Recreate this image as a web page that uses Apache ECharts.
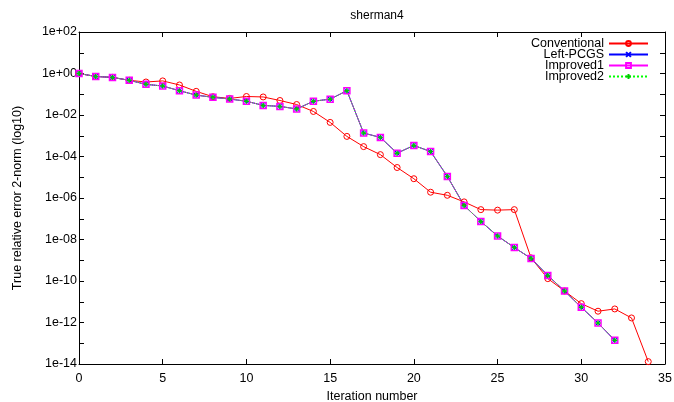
<!DOCTYPE html>
<html>
<head>
<meta charset="utf-8">
<script src="https://cdn.jsdelivr.net/npm/echarts@6/dist/echarts.min.js"></script>
<style>
html,body{margin:0;padding:0;background:#fff;}
#chart{width:674px;height:402px;}
</style>
</head>
<body>
<div id="chart"></div>
<script>
const iterations = [0,1,2,3,4,5,6,7,8,9,10,11,12,13,14,15,16,17,18,19,20,21,22,23,24,25,26,27,28,29,30,31,32,33,34];
const conventional = [1.0,0.72,0.65,0.47,0.39,0.44,0.28,0.138,0.076,0.063,0.078,0.074,0.050,0.032,0.0148,0.0044,9.3e-4,3.0e-4,1.23e-4,2.95e-5,8.5e-6,1.9e-6,1.35e-6,6.5e-7,2.75e-7,2.6e-7,2.75e-7,1.3e-9,1.3e-10,3.3e-11,8.1e-12,3.5e-12,4.5e-12,1.66e-12,1.3e-14];
const leftPCGS = [1.0,0.72,0.65,0.47,0.30,0.25,0.148,0.091,0.071,0.059,0.046,0.029,0.026,0.0195,0.046,0.058,0.148,1.35e-3,8.3e-4,1.45e-4,3.4e-4,1.74e-4,1.1e-5,4.4e-7,7.4e-8,1.48e-8,4.1e-9,1.23e-9,1.86e-10,3.3e-11,5.4e-12,9.5e-13,1.38e-13];
const improved1 = [1.0,0.72,0.65,0.47,0.30,0.25,0.148,0.091,0.071,0.059,0.046,0.029,0.026,0.0195,0.046,0.058,0.148,1.35e-3,8.3e-4,1.45e-4,3.4e-4,1.74e-4,1.1e-5,4.4e-7,7.4e-8,1.48e-8,4.1e-9,1.23e-9,1.86e-10,3.3e-11,5.4e-12,9.5e-13,1.38e-13];
const improved2 = [1.0,0.72,0.65,0.47,0.30,0.25,0.148,0.091,0.071,0.059,0.046,0.029,0.026,0.0195,0.046,0.058,0.148,1.35e-3,8.3e-4,1.45e-4,3.4e-4,1.74e-4,1.1e-5,4.4e-7,7.4e-8,1.48e-8,4.1e-9,1.23e-9,1.86e-10,3.3e-11,5.4e-12,9.5e-13,1.38e-13];
const seriesNames = ['Conventional','Left-PCGS','Improved1','Improved2'];
const titleText = 'sherman4';
const xName = 'Iteration number';
const yName = 'True relative error 2-norm (log10)';

const FONT = '"Liberation Sans", Arial, Helvetica, sans-serif';
function pairs(ys){ return ys.map((v,i)=>[iterations[i], v]); }
function yFmt(v){
  const e = Math.round(Math.log10(v));
  if (e % 2 !== 0) return '';
  const s = e < 0 ? '-' : '+';
  const a = Math.abs(e);
  return '1e' + s + (a < 10 ? '0' + a : '' + a);
}
function axisLine(){ return {show:true, onZero:false, lineStyle:{color:'#000', width:1}}; }
function tick(){ return {show:true, inside:true, length:5, lineStyle:{color:'#000', width:1}}; }

const chart = echarts.init(document.getElementById('chart'), null, {renderer:'canvas'});
chart.setOption({
  animation:false,
  backgroundColor:'#fff',
  title:{text:titleText, left:372, top:5, textAlign:'center',
    textStyle:{fontFamily:FONT, fontSize:12, fontWeight:'normal', color:'#000'}},
  grid:{left:79, right:9, top:32, bottom:38, containLabel:false, outerBoundsMode:'none'},
  legend:{
    orient:'vertical', right:20, top:32, align:'right',
    itemWidth:39, itemHeight:6, itemGap:-2,
    textStyle:{fontFamily:FONT, fontSize:12.5, color:'#000'},
    data:seriesNames
  },
  xAxis:[
    {type:'value', min:0, max:35, interval:5, name:xName, nameLocation:'middle', nameGap:20,
      nameTextStyle:{fontFamily:FONT, fontSize:12.5, color:'#000'},
      axisLine:axisLine(), axisTick:tick(), splitLine:{show:false},
      axisLabel:{fontFamily:FONT, fontSize:12.5, color:'#000', margin:8}},
    {type:'value', position:'top', min:0, max:35, interval:5,
      axisLine:axisLine(), axisTick:tick(), splitLine:{show:false}, axisLabel:{show:false}}
  ],
  yAxis:[
    {type:'log', logBase:10, min:1e-14, max:100, interval:1, position:'left', name:yName, nameLocation:'middle', nameGap:55,
      nameTextStyle:{fontFamily:FONT, fontSize:12.5, color:'#000'},
      axisLine:axisLine(), axisTick:tick(), splitLine:{show:false}, minorTick:{show:false},
      axisLabel:{fontFamily:FONT, fontSize:12.5, color:'#000', margin:2, formatter:yFmt}},
    {type:'log', logBase:10, min:1e-14, max:100, interval:1, position:'right',
      axisLine:axisLine(), axisTick:tick(), splitLine:{show:false}, axisLabel:{show:false}}
  ],
  series:[
    {name:seriesNames[0], type:'line', data:pairs(conventional), symbol:'circle', symbolSize:6,
      showAllSymbol:true, color:'#ff0000',
      lineStyle:{color:'#ff0000', width:1},
      itemStyle:{color:'rgba(255,255,255,0)', borderColor:'#ff0000', borderWidth:1}},
    {name:seriesNames[1], type:'line', data:pairs(leftPCGS), symbol:'path://M0,0L10,10M10,0L0,10', symbolSize:5,
      showAllSymbol:true, color:'#0000ff',
      lineStyle:{color:'#0000ff', width:1},
      itemStyle:{color:'#0000ff', borderColor:'#0000ff', borderWidth:1}},
    {name:seriesNames[2], type:'line', data:pairs(improved1), symbol:'rect', symbolSize:6,
      showAllSymbol:true, color:'#ff00ff',
      lineStyle:{color:'#ff00ff', width:1},
      itemStyle:{color:'rgba(255,255,255,0)', borderColor:'#ff00ff', borderWidth:1.5}},
    {name:seriesNames[3], type:'line', data:pairs(improved2), symbol:'path://M5,0L5,10M0,5L10,5', symbolSize:5,
      showAllSymbol:true, color:'#00ff00',
      lineStyle:{color:'#00ff00', width:1, type:'dotted'},
      itemStyle:{color:'#00cc00', borderColor:'#00cc00', borderWidth:1.5}}
  ]
});
</script>
</body>
</html>
